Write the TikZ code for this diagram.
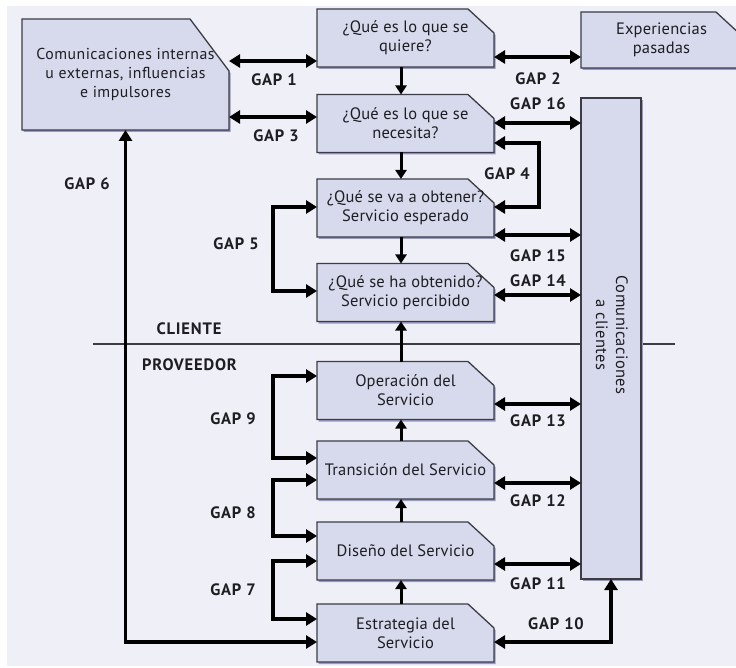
\documentclass[tikz,border=0pt]{standalone}
\usepackage{fontspec}
\setmainfont{PT Sans}
\usetikzlibrary{arrows.meta,shadows,backgrounds}

\definecolor{fondo}{RGB}{238,239,247}
\definecolor{relleno}{RGB}{214,218,236}
\definecolor{borde}{RGB}{60,60,66}
\definecolor{sombra}{RGB}{150,152,200}
\definecolor{texto}{RGB}{30,30,34}

% contorno con la esquina superior derecha cortada
\newcommand{\chaflan}[3]{%
	\filldraw[marco] (#1.south west) -- (#1.north west) -- ([xshift=-#2]#1.north east)
		-- ([yshift=-#3]#1.north east) -- (#1.south east) -- cycle;}

\begin{document}
\begin{tikzpicture}[x=1pt,y=-1pt,
		marco/.style={draw=borde,line width=1.3pt,fill=relleno,
			drop shadow={shadow xshift=1.5pt,shadow yshift=-2pt,fill=sombra,opacity=1}},
		caja/.style={rectangle,inner sep=0pt,outer sep=0pt,align=center,text=texto,
			font=\fontsize{16.5}{19}\selectfont\addfontfeature{LetterSpace=1},
			minimum width=177pt,minimum height=58pt},
		gap/.style={line width=3.5pt,{Triangle[length=11pt,width=13pt]}-{Triangle[length=11pt,width=13pt]}},
		flecha/.style={line width=3pt,-{Triangle[length=9pt,width=11pt]}},
		etiqueta/.style={text=texto,font=\fontsize{16.5}{18}\bfseries\addfontfeature{LetterSpace=5}}]
		
		\useasboundingbox (0,0) rectangle (736,668);
		\node[etiqueta] (cliente) at (189,329) {CLIENTE};
		\node[etiqueta] (proveedor) at (189.5,365) {PROVEEDOR};
		
		% lado del cliente
		\node[caja,minimum width=207pt,minimum height=111pt,
			font=\fontsize{15.8}{19}\selectfont\addfontfeature{LetterSpace=3}]
			(influencias) at (125.5,74.5) {Comunicaciones internas\\u externas, influencias\\e impulsores};
		\node[caja] (quiere) at (405.5,38) {¿Qué es lo que se\\quiere?};
		\node[caja] (necesita) at (405.5,123.5) {¿Qué es lo que se\\necesita?};
		\node[caja] (esperado) at (405.5,208) {¿Qué se va a obtener?\\Servicio esperado};
		\node[caja] (percibido) at (405.5,292.5) {¿Qué se ha obtenido?\\Servicio percibido};
		\node[caja,minimum width=161pt,minimum height=56pt] (experiencias) at (661.5,40) {Experiencias\\pasadas};
		
		\node[caja,minimum width=60pt,minimum height=481pt] (clientes) at (611,338.5) {};
		\node[caja,rotate=-90,minimum width=0pt,minimum height=0pt,
			font=\fontsize{16.5}{20}\selectfont\addfontfeature{LetterSpace=2}] (clientestxt) at (612,335)
			{Comunicaciones\\a clientes};
		
		% lado del proveedor
		\node[caja] (operacion) at (405.5,390.5) {Operación del\\Servicio};
		\node[caja] (transicion) at (405.5,470) {Transición del Servicio};
		\node[caja] (diseno) at (405.5,551) {Diseño del Servicio};
		\node[caja] (estrategia) at (405.5,633) {Estrategia del\\Servicio};
		
		\begin{scope}[on background layer]
			\fill[fondo] (7,6) rectangle (736,666);
			\draw[line width=1.5pt,borde] (93,344) -- (675,344);
			\chaflan{influencias}{39pt}{52pt}
			\foreach \n in {quiere,necesita,esperado,percibido,experiencias,operacion,transicion,diseno,estrategia}
				\chaflan{\n}{26pt}{24pt}
			\filldraw[marco] (clientes.south west) rectangle (clientes.north east);
		\end{scope}
		
		\foreach \a/\b in {quiere/necesita,necesita/esperado,esperado/percibido}
			\draw[flecha] ([xshift=-4.5pt]\a.south) -- ([xshift=-4.5pt]\b.north);
		\foreach \a/\b in {operacion/percibido,transicion/operacion,diseno/transicion,estrategia/diseno}
			\draw[flecha] ([xshift=-4.5pt]\a.north) -- ([xshift=-4.5pt]\b.south);
		
		% gaps
		\draw[gap] (influencias.east |- 0,61) -- (quiere.west |- 0,61);
		\draw[gap] (influencias.east |- 0,117) -- (necesita.west |- 0,117);
		\draw[gap] (quiere.east |- 0,57) -- (experiencias.west |- 0,57);
		\draw[gap] (necesita.east |- 0,143) -- ++(45,0) |- (esperado.east |- 0,207);
		\draw[gap] (esperado.west |- 0,207) -- ++(-44,0) |- (percibido.west |- 0,291);
		\draw[gap] (estrategia.west |- 0,642) -| (influencias.south);
		\draw[gap] (operacion.west |- 0,376) -- ++(-44,0) |- (transicion.west |- 0,458);
		\draw[gap] (transicion.west |- 0,480) -- ++(-44,0) |- (diseno.west |- 0,536);
		\draw[gap] (diseno.west |- 0,561) -- ++(-44,0) |- (estrategia.west |- 0,619);
		\draw[gap] (estrategia.east |- 0,642) -| (clientes.south);
		\foreach \n/\y in {necesita/123,esperado/235,percibido/295,operacion/404,transicion/483,diseno/564}
			\draw[gap] (\n.east |- 0,\y) -- (clientes.west |- 0,\y);
		
		\foreach \g/\x/\y in {1/274/80,2/538/79,3/276/136,4/507/174,5/236/244,6/87/184,7/233/590,8/233/513,
			9/233/419,10/556/624,11/538/584,12/538/501,13/538/421,14/538/281,15/538/256,16/538/104}
			\node[etiqueta] (gap\g) at (\x,\y) {GAP \g};
		
\end{tikzpicture}
\end{document}
